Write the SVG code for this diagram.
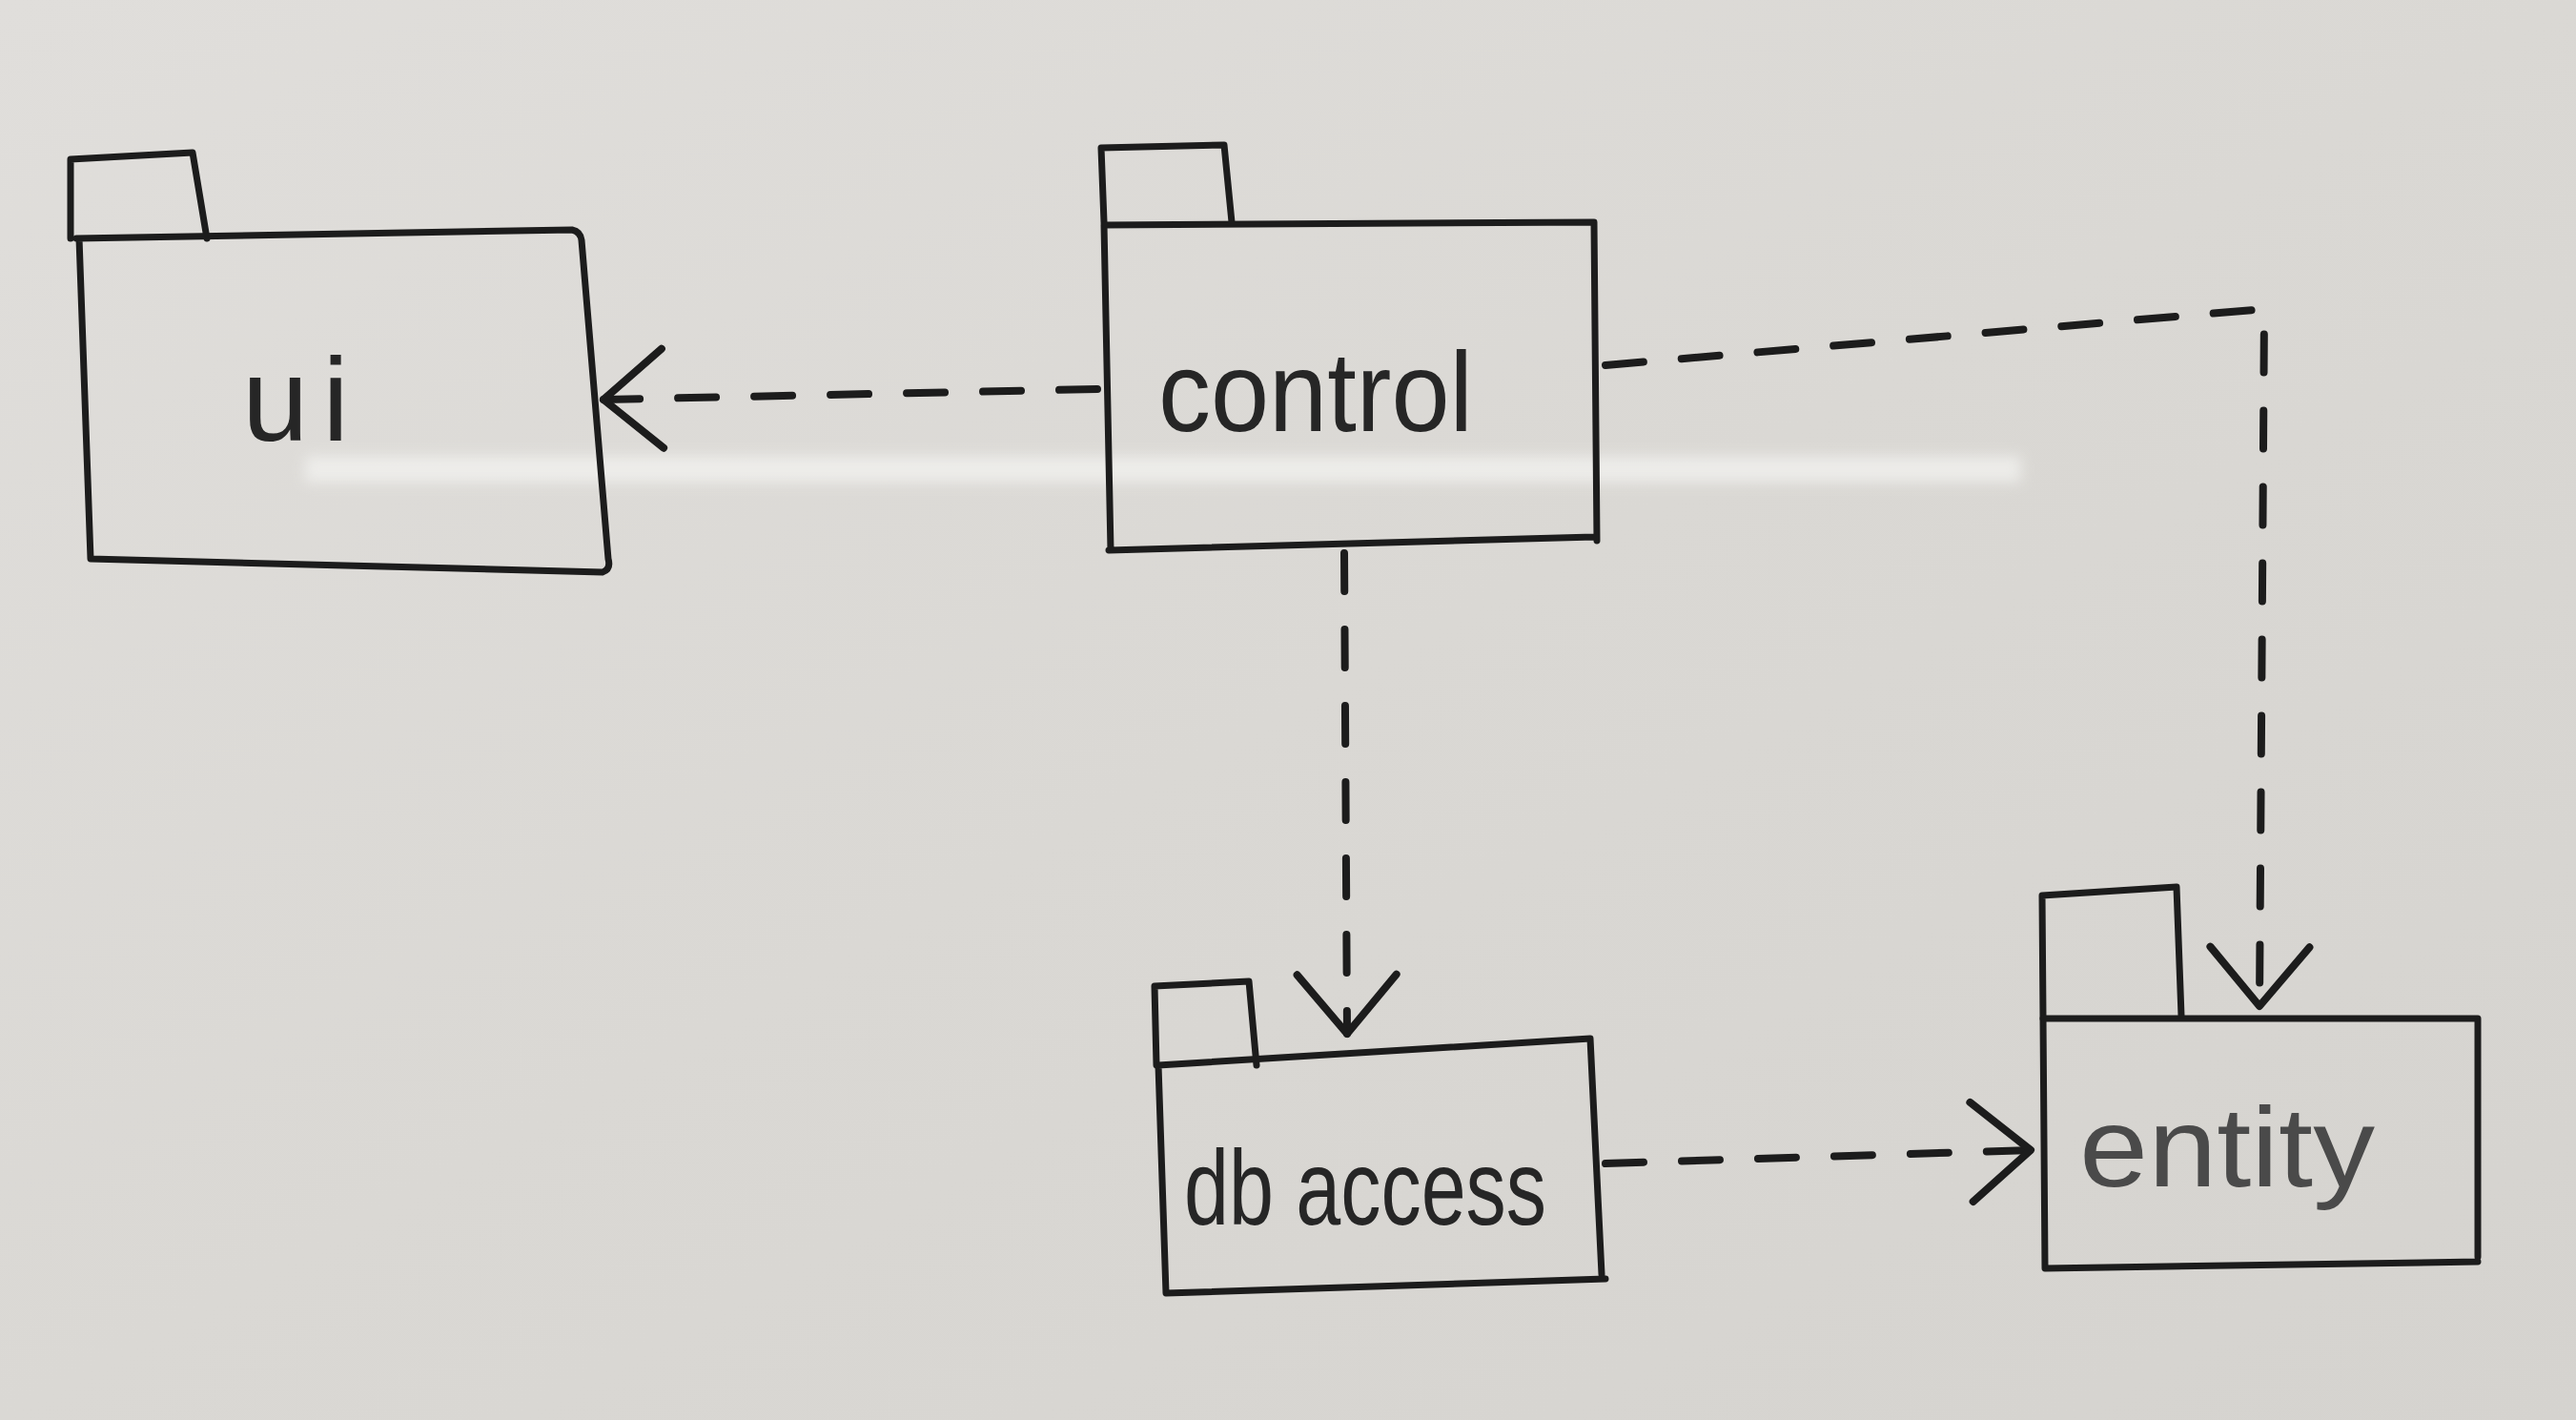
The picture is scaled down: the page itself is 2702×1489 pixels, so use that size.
<svg xmlns="http://www.w3.org/2000/svg" width="2702" height="1489" viewBox="0 0 2702 1489">
<defs>
<linearGradient id="bg" x1="0" y1="0" x2="1" y2="1">
<stop offset="0" stop-color="#e0dedb"/>
<stop offset="0.5" stop-color="#dad8d4"/>
<stop offset="1" stop-color="#d5d3cf"/>
</linearGradient>
<filter id="blur" x="-10%" y="-100%" width="120%" height="300%"><feGaussianBlur stdDeviation="7"/></filter>
<marker id="open" markerUnits="userSpaceOnUse" markerWidth="140" markerHeight="140" viewBox="-80 -70 100 140" refX="0" refY="0" orient="auto">
<path d="M-62,-52 L0,0 L-62,52" fill="none" stroke="#1c1c1c" stroke-width="8" stroke-linecap="round" stroke-linejoin="round"/>
</marker>
</defs>
<style>
.box{fill:none;stroke:#1c1c1c;stroke-width:7;stroke-linecap:round;stroke-linejoin:round}
.dep{fill:none;stroke:#1c1c1c;stroke-width:8;stroke-dasharray:40 40;stroke-linecap:round}
.lbl{font-family:"Liberation Sans",Arial,sans-serif;fill:#262626}
</style>
<rect x="0" y="0" width="2702" height="1489" fill="url(#bg)"/>
<rect x="320" y="478" width="1800" height="28" fill="#f4f4f2" opacity="0.7" filter="url(#blur)"/>
<g id="ui">
<path class="box" d="M74,250 L74,167 L202,160 L217,250"/>
<path class="box" d="M80,250 L600,241 Q609,243 610,252 L638,586 Q641,597 632,600 L95,586 L83,250"/>
<text class="lbl" x="310" y="462" font-size="125" text-anchor="middle" textLength="112" lengthAdjust="spacing">ui</text>
</g>
<g id="control">
<path class="box" d="M1158,233 L1155,155 L1284,152 L1292,233"/>
<path class="box" d="M1158,236 L1672,233 L1675,567 M1163,577 L1672,563 M1158,236 L1165,577"/>
<text class="lbl" x="1380" y="452" font-size="118" text-anchor="middle" textLength="330" lengthAdjust="spacingAndGlyphs">control</text>
</g>
<g id="db_access">
<path class="box" d="M1213,1117 L1211,1034 L1310,1029 L1318,1117"/>
<path class="box" d="M1215,1117 L1668,1089 L1680,1336 M1223,1356 L1684,1341 M1215,1117 L1223,1356"/>
<text class="lbl" x="1432" y="1284" font-size="112" text-anchor="middle" textLength="380" lengthAdjust="spacingAndGlyphs">db access</text>
</g>
<g id="entity">
<path class="box" d="M2143,1068 L2142,939 L2283,930 L2288,1065"/>
<path class="box" d="M2143,1068 L2599,1068 L2599,1318 M2145,1330 L2599,1323 M2143,1068 L2145,1330"/>
<text class="lbl" x="2336" y="1244" font-size="118" text-anchor="middle" textLength="310" lengthAdjust="spacingAndGlyphs" fill="#4a4a4a" style="fill:#4a4a4a">entity</text>
</g>
<g id="connectors">
<path class="dep" d="M1151,408 L633,419" marker-end="url(#open)"/>
<path class="dep" d="M1410,580 L1413,1084" marker-end="url(#open)"/>
<path class="dep" d="M1684,383 L2375,324 L2370,1055" marker-end="url(#open)"/>
<path class="dep" d="M1684,1220 L2130,1206" marker-end="url(#open)"/>
</g>
</svg>
